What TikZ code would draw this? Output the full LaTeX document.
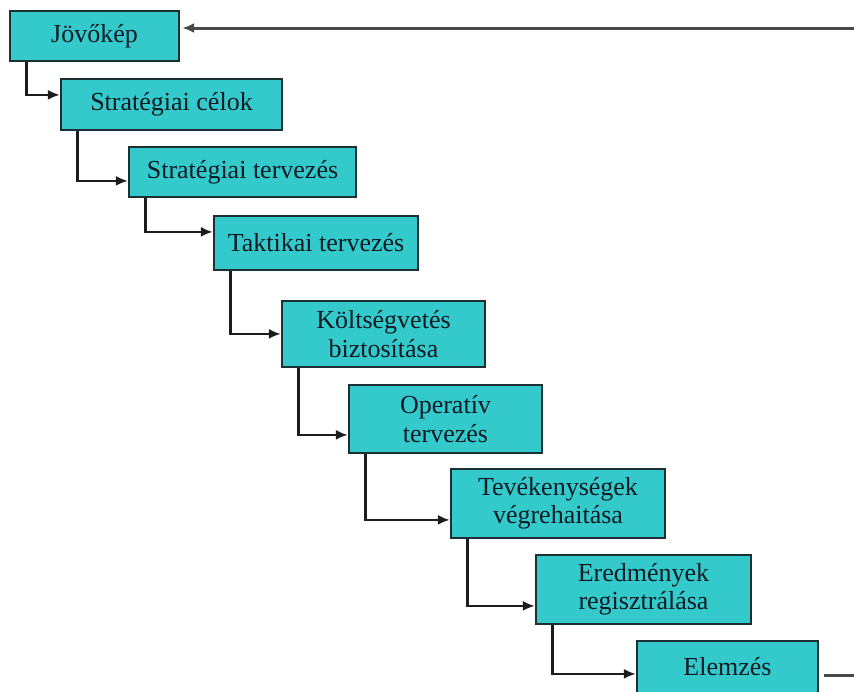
\documentclass[tikz,border=0pt]{standalone}
\usepackage{fontspec}
\setmainfont{Liberation Serif}
\usetikzlibrary{arrows.meta}
\definecolor{boxfill}{RGB}{52,202,204}
\definecolor{boxline}{RGB}{28,48,52}
\definecolor{txt}{RGB}{12,26,36}
\definecolor{conncol}{RGB}{28,28,28}
\tikzset{
  stage/.style={draw=boxline, fill=boxfill, line width=2.2pt, inner sep=0pt, align=center,
    text=txt, font=\fontsize{26}{28.5}\selectfont},
  conn/.style={draw=conncol, line width=2.4pt, -{Latex[length=12pt,width=10pt]}},
  plainconn/.style={draw=conncol!80!white, line width=3pt},
}
\begin{document}
\begin{tikzpicture}[x=1pt,y=-1pt]
\useasboundingbox (0,0) rectangle (854,691);
\clip (0,0) rectangle (854,691);
\fill[white] (0,0) rectangle (854,691);
\node[stage, minimum width=169pt, minimum height=50pt] (b1) at (94.5,36) {Jövőkép};
\node[stage, minimum width=221pt, minimum height=51pt] (b2) at (171.5,104.5) {Stratégiai célok};
\node[stage, minimum width=227pt, minimum height=50pt] (b3) at (242.5,172) {Stratégiai tervezés};
\node[stage, minimum width=204pt, minimum height=54pt] (b4) at (316,243) {Taktikai tervezés};
\node[stage, minimum width=203pt, minimum height=66pt] (b5) at (383.5,334) {Költségvetés\\biztosítása};
\node[stage, minimum width=193pt, minimum height=68pt] (b6) at (445.5,419) {Operatív\\tervezés};
\node[stage, minimum width=214pt, minimum height=69pt] (b7) at (558,503.5) {Tevékenységek\\végrehaitása};
\node[stage, minimum width=215pt, minimum height=69pt] (b8) at (643.5,589.5) {Eredmények\\regisztrálása};
\node[stage, minimum width=181pt, minimum height=52pt] (b9) at (727.5,667) {Elemzés};
\draw[conn] ([xshift=17.5pt]b1.south west) |- ([yshift=-17pt]b2.north west);
\draw[conn] ([xshift=17.5pt]b2.south west) |- ([yshift=-35pt]b3.north west);
\draw[conn] ([xshift=17.5pt]b3.south west) |- ([yshift=-17pt]b4.north west);
\draw[conn] ([xshift=17.5pt]b4.south west) |- ([yshift=-34pt]b5.north west);
\draw[conn] ([xshift=17.5pt]b5.south west) |- ([yshift=-51pt]b6.north west);
\draw[conn] ([xshift=17.5pt]b6.south west) |- ([yshift=-52pt]b7.north west);
\draw[conn] ([xshift=17.5pt]b7.south west) |- ([yshift=-52pt]b8.north west);
\draw[conn] ([xshift=17.5pt]b8.south west) |- ([yshift=-34pt]b9.north west);
\coordinate (rt) at (856,28);
\coordinate (rb) at (856,675);
\draw[plainconn] ([xshift=5pt]b9.east |- rb) -- (rb);
\draw[plainconn, -{Latex[length=12pt,width=10pt]}] (rt) -- ([xshift=2pt]b1.east |- rt);
\end{tikzpicture}
\end{document}
